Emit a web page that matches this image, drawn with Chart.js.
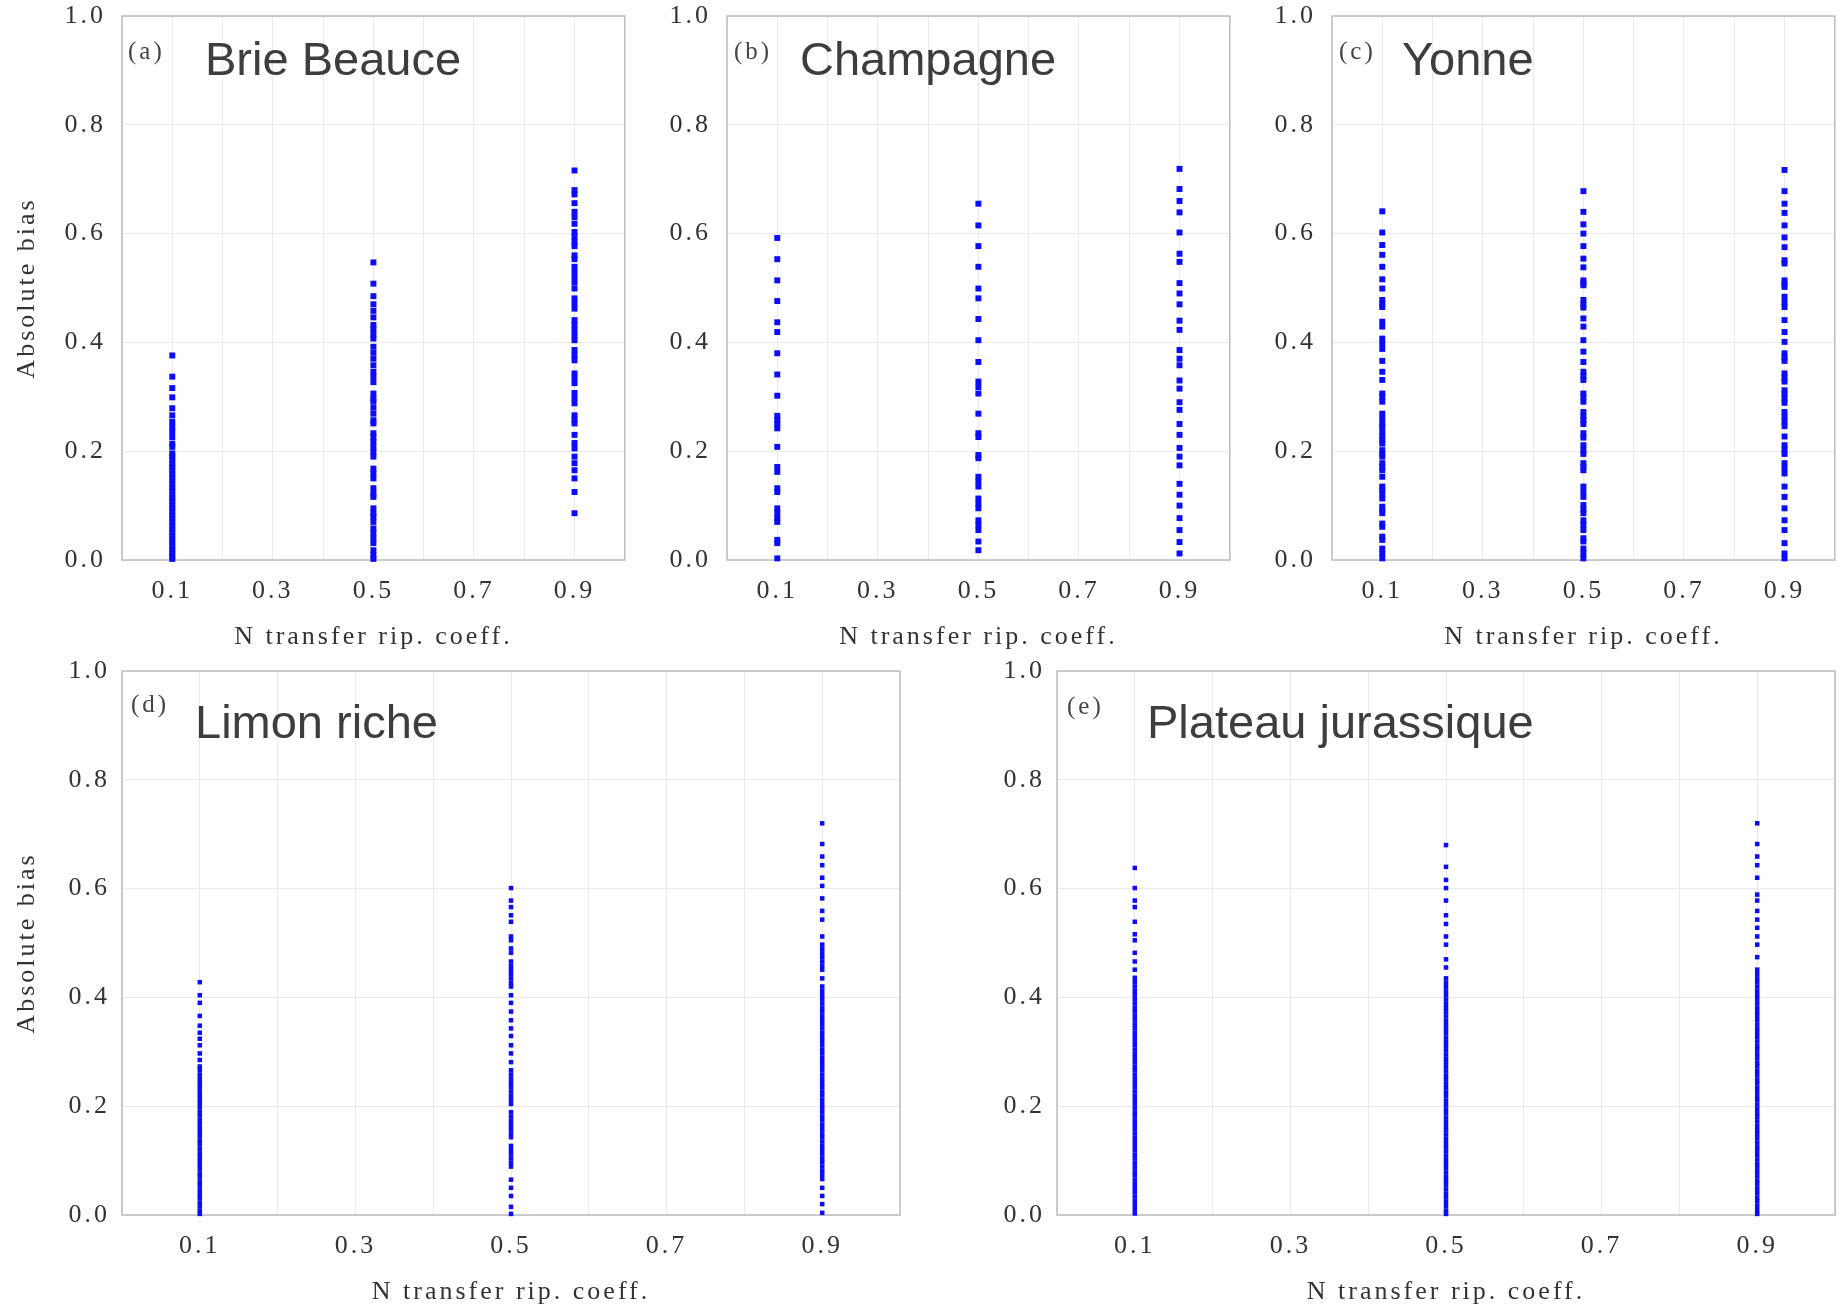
<!DOCTYPE html>
<html>
<head>
<meta charset="utf-8">
<title>Absolute bias - N transfer rip. coeff.</title>
<script src="https://cdn.jsdelivr.net/npm/chart.js@4.4.1/dist/chart.umd.min.js"></script>
<style>
	html, body { margin: 0; padding: 0; background: #fff; overflow: hidden; }
	#page { position: relative; width: 1847px; height: 1308px; }
	#page canvas { position: absolute; }
</style>
</head>
<body>
<div id="page">
	<canvas id="PanelA"></canvas>
	<canvas id="PanelB"></canvas>
	<canvas id="PanelC"></canvas>
	<canvas id="PanelD"></canvas>
	<canvas id="PanelE"></canvas>
</div>
<script>
// tested values of the N transfer riparian coefficient
var coeffLevels = [0.1, 0.5, 0.9];

var xTickLabels = ["0.1", "0.3", "0.5", "0.7", "0.9"];
var yTickLabels = ["0.0", "0.2", "0.4", "0.6", "0.8", "1.0"];

// (a) Brie Beauce
var brieBeauce01 = [0.376, 0.337, 0.316, 0.299, 0.279, 0.266, 0.254, 0.245, 0.236, 0.226, 0.214, 0.208, 0.196,
	0.190, 0.184, 0.177, 0.171, 0.165, 0.158, 0.152, 0.146, 0.139, 0.133, 0.127, 0.120, 0.114, 0.108, 0.101,
	0.095, 0.089, 0.082, 0.076, 0.070, 0.063, 0.057, 0.051, 0.044, 0.038, 0.032, 0.025, 0.019, 0.013, 0.006, 0.002];
var brieBeauce05 = [0.547, 0.508, 0.485, 0.470, 0.458, 0.446, 0.432, 0.424, 0.415, 0.407, 0.392, 0.381, 0.370,
	0.358, 0.346, 0.337, 0.327, 0.306, 0.297, 0.291, 0.280, 0.269, 0.257, 0.251, 0.233, 0.225, 0.217, 0.208,
	0.199, 0.190, 0.168, 0.159, 0.150, 0.132, 0.122, 0.116, 0.095, 0.086, 0.080, 0.070, 0.058, 0.049, 0.040,
	0.031, 0.018, 0.009, 0.002];
var brieBeauce09 = [0.716, 0.680, 0.672, 0.656, 0.640, 0.630, 0.618, 0.603, 0.594, 0.585, 0.577, 0.560, 0.553,
	0.539, 0.530, 0.520, 0.510, 0.499, 0.481, 0.472, 0.462, 0.441, 0.432, 0.422, 0.413, 0.404, 0.386, 0.376,
	0.367, 0.343, 0.334, 0.325, 0.307, 0.298, 0.288, 0.266, 0.258, 0.251, 0.230, 0.215, 0.205, 0.190, 0.178,
	0.165, 0.150, 0.125, 0.086];

// (b) Champagne
var champagne01 = [0.592, 0.553, 0.514, 0.476, 0.437, 0.419, 0.380, 0.341, 0.302, 0.265, 0.257, 0.250, 0.242,
	0.208, 0.171, 0.162, 0.132, 0.125, 0.095, 0.086, 0.077, 0.070, 0.037, 0.031, 0.003];
var champagne05 = [0.655, 0.615, 0.577, 0.539, 0.499, 0.481, 0.443, 0.404, 0.364, 0.328, 0.318, 0.306, 0.269,
	0.233, 0.226, 0.193, 0.187, 0.153, 0.144, 0.135, 0.113, 0.104, 0.095, 0.073, 0.064, 0.055, 0.034, 0.018];
var champagne09 = [0.719, 0.682, 0.660, 0.639, 0.602, 0.563, 0.548, 0.509, 0.490, 0.470, 0.440, 0.423, 0.386,
	0.370, 0.358, 0.330, 0.315, 0.290, 0.276, 0.250, 0.230, 0.206, 0.190, 0.174, 0.140, 0.120, 0.100, 0.077,
	0.055, 0.033, 0.012];

// (c) Yonne
var yonne01 = [0.641, 0.602, 0.579, 0.561, 0.539, 0.516, 0.499, 0.478, 0.471, 0.465, 0.438, 0.429, 0.407, 0.398,
	0.388, 0.366, 0.346, 0.331, 0.306, 0.299, 0.291, 0.269, 0.260, 0.251, 0.245, 0.236, 0.227, 0.220, 0.214,
	0.202, 0.195, 0.190, 0.178, 0.171, 0.165, 0.153, 0.135, 0.129, 0.122, 0.113, 0.098, 0.092, 0.086, 0.067,
	0.061, 0.043, 0.037, 0.021, 0.012, 0.003];
var yonne05 = [0.678, 0.640, 0.617, 0.600, 0.577, 0.554, 0.538, 0.514, 0.509, 0.505, 0.478, 0.470, 0.464, 0.444,
	0.429, 0.404, 0.383, 0.364, 0.346, 0.338, 0.331, 0.306, 0.299, 0.291, 0.272, 0.264, 0.257, 0.250, 0.233,
	0.225, 0.211, 0.202, 0.195, 0.178, 0.171, 0.165, 0.135, 0.125, 0.116, 0.101, 0.093, 0.086, 0.073, 0.064,
	0.055, 0.040, 0.034, 0.021, 0.012, 0.003];
var yonne09 = [0.717, 0.678, 0.655, 0.638, 0.615, 0.593, 0.575, 0.551, 0.545, 0.514, 0.508, 0.502, 0.484, 0.474,
	0.465, 0.441, 0.419, 0.401, 0.380, 0.372, 0.366, 0.343, 0.335, 0.328, 0.312, 0.305, 0.297, 0.289, 0.272,
	0.263, 0.254, 0.246, 0.227, 0.211, 0.202, 0.195, 0.178, 0.168, 0.159, 0.135, 0.116, 0.095, 0.073, 0.055,
	0.031, 0.012, 0.003];

// (d) Limon riche
var limonRiche01 = [0.428, 0.404, 0.390, 0.366, 0.348, 0.335, 0.324, 0.312, 0.297, 0.285, 0.273, 0.266, 0.258,
	0.250, 0.243, 0.236, 0.228, 0.221, 0.213, 0.206, 0.198, 0.190, 0.183, 0.175, 0.168, 0.160, 0.152, 0.145,
	0.137, 0.130, 0.122, 0.114, 0.107, 0.099, 0.092, 0.084, 0.076, 0.069, 0.061, 0.054, 0.046, 0.038, 0.031,
	0.023, 0.016, 0.008, 0.002];
var limonRiche05 = [0.601, 0.578, 0.566, 0.551, 0.539, 0.512, 0.505, 0.490, 0.482, 0.466, 0.458, 0.450, 0.443,
	0.435, 0.427, 0.420, 0.404, 0.390, 0.374, 0.358, 0.343, 0.329, 0.312, 0.297, 0.281, 0.266, 0.258, 0.250,
	0.242, 0.235, 0.227, 0.219, 0.212, 0.204, 0.189, 0.181, 0.173, 0.166, 0.158, 0.150, 0.143, 0.127, 0.119,
	0.112, 0.104, 0.096, 0.089, 0.065, 0.050, 0.035, 0.015, 0.002];
var limonRiche09 = [0.720, 0.682, 0.659, 0.643, 0.620, 0.605, 0.582, 0.559, 0.543, 0.512, 0.497, 0.489, 0.481,
	0.474, 0.466, 0.458, 0.451, 0.435, 0.420, 0.412, 0.404, 0.397, 0.389, 0.381, 0.374, 0.366, 0.358, 0.351,
	0.343, 0.335, 0.327, 0.320, 0.312, 0.304, 0.297, 0.289, 0.281, 0.274, 0.266, 0.258, 0.250, 0.243, 0.235,
	0.227, 0.220, 0.212, 0.204, 0.197, 0.189, 0.181, 0.174, 0.166, 0.158, 0.150, 0.143, 0.135, 0.127, 0.120,
	0.112, 0.104, 0.097, 0.089, 0.081, 0.074, 0.066, 0.050, 0.035, 0.020, 0.004];

// (e) Plateau jurassique
var plateauJura01 = [0.638, 0.601, 0.578, 0.566, 0.539, 0.516, 0.505, 0.482, 0.466, 0.451, 0.436, 0.428, 0.420,
	0.412, 0.405, 0.397, 0.389, 0.381, 0.374, 0.366, 0.358, 0.350, 0.343, 0.335, 0.327, 0.320, 0.312, 0.304,
	0.296, 0.289, 0.281, 0.273, 0.266, 0.258, 0.250, 0.242, 0.235, 0.227, 0.219, 0.212, 0.204, 0.196, 0.188,
	0.181, 0.173, 0.165, 0.158, 0.150, 0.142, 0.134, 0.127, 0.119, 0.111, 0.104, 0.096, 0.088, 0.080, 0.073,
	0.065, 0.057, 0.050, 0.042, 0.034, 0.026, 0.019, 0.011, 0.003];
var plateauJura05 = [0.680, 0.640, 0.616, 0.601, 0.578, 0.551, 0.535, 0.512, 0.497, 0.470, 0.455, 0.435, 0.427,
	0.419, 0.411, 0.404, 0.396, 0.388, 0.380, 0.373, 0.365, 0.357, 0.349, 0.342, 0.334, 0.326, 0.318, 0.311,
	0.303, 0.295, 0.287, 0.280, 0.272, 0.264, 0.256, 0.249, 0.241, 0.233, 0.225, 0.218, 0.210, 0.202, 0.194,
	0.187, 0.179, 0.171, 0.163, 0.156, 0.148, 0.140, 0.132, 0.125, 0.117, 0.109, 0.101, 0.094, 0.086, 0.078,
	0.070, 0.063, 0.055, 0.047, 0.039, 0.032, 0.024, 0.016, 0.008, 0.002];
var plateauJura09 = [0.720, 0.682, 0.659, 0.643, 0.620, 0.589, 0.578, 0.559, 0.543, 0.528, 0.512, 0.497, 0.474,
	0.451, 0.443, 0.435, 0.428, 0.420, 0.412, 0.404, 0.397, 0.389, 0.381, 0.373, 0.366, 0.358, 0.350, 0.342,
	0.335, 0.327, 0.319, 0.311, 0.304, 0.296, 0.288, 0.280, 0.273, 0.265, 0.257, 0.249, 0.242, 0.234, 0.226,
	0.218, 0.211, 0.203, 0.195, 0.187, 0.180, 0.172, 0.164, 0.156, 0.149, 0.141, 0.133, 0.125, 0.118, 0.110,
	0.102, 0.094, 0.087, 0.079, 0.071, 0.063, 0.056, 0.048, 0.040, 0.032, 0.025, 0.017, 0.009, 0.002];

// box around the plot area, panel letter and soil name
var panelDecor = {
	id: 'panelDecor',
	beforeDraw: function(chart) {
		chart.ctx.letterSpacing = '3px';
	},
	beforeDatasetsDraw: function(chart) {
		var ctx = chart.ctx;
		var area = chart.chartArea;
		ctx.save();
		ctx.strokeStyle = '#bdbdbd';
		ctx.lineWidth = 1.5;
		ctx.strokeRect(area.left, area.top, area.right - area.left, area.bottom - area.top);
		ctx.restore();
	},
	afterDraw: function(chart, args, opts) {
		var ctx = chart.ctx;
		var area = chart.chartArea;
		ctx.save();
		ctx.textAlign = 'left';
		ctx.fillStyle = '#444';
		ctx.font = '25px "Liberation Serif"';
		ctx.letterSpacing = '3px';
		ctx.textBaseline = 'middle';
		ctx.fillText(opts.tag, area.left + opts.tagX, area.top + opts.tagY);
		ctx.letterSpacing = '0px';
		ctx.fillStyle = '#3d3d3d';
		ctx.font = '47px "Liberation Sans"';
		ctx.textBaseline = 'alphabetic';
		ctx.fillText(opts.name, area.left + opts.nameX, area.top + opts.nameY);
		ctx.restore();
	}
};

var Panels = {
	padTop: 16,
	plotHeight: 544,
	xAxisHeight: 96,

	list: [
		{ canvas: "PanelA", tag: "(a)", name: "Brie Beauce", series: [brieBeauce01, brieBeauce05, brieBeauce09],
			left: 0, top: 0, yWidth: 122, plotWidth: 504, yTitle: true, tickPad: 16, radius: 4.2,
			tagX: 6, tagY: 36, nameX: 83, nameY: 59 },
		{ canvas: "PanelB", tag: "(b)", name: "Champagne", series: [champagne01, champagne05, champagne09],
			left: 627, top: 0, yWidth: 100, plotWidth: 504, yTitle: false, tickPad: 16, radius: 4.2,
			tagX: 7, tagY: 36, nameX: 73, nameY: 59 },
		{ canvas: "PanelC", tag: "(c)", name: "Yonne", series: [yonne01, yonne05, yonne09],
			left: 1232, top: 0, yWidth: 100, plotWidth: 504, yTitle: false, tickPad: 16, radius: 4.2,
			tagX: 7, tagY: 36, nameX: 70, nameY: 59 },
		{ canvas: "PanelD", tag: "(d)", name: "Limon riche", series: [limonRiche01, limonRiche05, limonRiche09],
			left: 0, top: 655, yWidth: 122, plotWidth: 779, yTitle: true, tickPad: 12, radius: 3.2,
			tagX: 9, tagY: 34, nameX: 73, nameY: 67 },
		{ canvas: "PanelE", tag: "(e)", name: "Plateau jurassique", series: [plateauJura01, plateauJura05, plateauJura09],
			left: 957, top: 655, yWidth: 100, plotWidth: 779, yTitle: false, tickPad: 12, radius: 3.2,
			tagX: 10, tagY: 36, nameX: 90, nameY: 67 }
	],

	init: function() {
		for(var i = 0; i < this.list.length; i++) {
			this.drawChart(this.list[i]);
		}
	},
	tickFont: function() {
		return { family: 'Liberation Serif', size: 26 };
	},
	drawChart: function(panel) {
		var canvas = document.getElementById(panel.canvas);
		canvas.width = panel.yWidth + panel.plotWidth + 3;
		canvas.height = Panels.padTop + Panels.plotHeight + Panels.xAxisHeight;
		canvas.style.left = panel.left + 'px';
		canvas.style.top = panel.top + 'px';

		var datasets = [];
		for(var k = 0; k < coeffLevels.length; k++) {
			datasets.push({
				data: panel.series[k].map(function(v) { return { x: coeffLevels[k], y: v }; }),
				pointStyle: 'rect',
				pointRadius: panel.radius,
				pointBackgroundColor: '#0b0bff',
				pointBorderWidth: 0,
				clip: false
			});
		}

		new Chart(canvas.getContext('2d'), {
			type: 'scatter',
			data: { datasets: datasets },
			plugins: [panelDecor],
			options: {
				responsive: false,
				animation: false,
				events: [],
				layout: { padding: { top: Panels.padTop, right: 3, left: 0, bottom: 0 } },
				plugins: {
					legend: { display: false },
					tooltip: { enabled: false },
					panelDecor: { tag: panel.tag, name: panel.name, tagX: panel.tagX, tagY: panel.tagY, nameX: panel.nameX, nameY: panel.nameY }
				},
				scales: {
					x: {
						type: 'linear', min: 0, max: 1,
						border: { display: false },
						grid: { color: '#eaeaea', lineWidth: 1, drawTicks: false },
						ticks: {
							stepSize: 0.1, autoSkip: false, maxRotation: 0, padding: 16,
							color: '#333', font: Panels.tickFont(),
							callback: function(value) {
								var s = value.toFixed(1);
								return xTickLabels.indexOf(s) >= 0 ? s : '';
							}
						},
						title: { display: true, text: 'N transfer rip. coeff.', color: '#333', font: Panels.tickFont(), padding: { top: 0, bottom: 3 } },
						afterFit: function(scale) {
							// keep the plot edges where the layout padding puts them
							scale.height = Panels.xAxisHeight;
							scale.paddingLeft = 0;
							scale.paddingRight = 0;
						}
					},
					y: {
						type: 'linear', min: 0, max: 1,
						border: { display: false },
						grid: { color: '#eaeaea', lineWidth: 1, drawTicks: false },
						ticks: {
							stepSize: 0.2, autoSkip: false, padding: panel.tickPad,
							color: '#333', font: Panels.tickFont(),
							callback: function(value) {
								var s = value.toFixed(1);
								return yTickLabels.indexOf(s) >= 0 ? s : '';
							}
						},
						title: { display: panel.yTitle, text: 'Absolute bias', color: '#333', font: Panels.tickFont(), padding: { top: 12, bottom: 0 } },
						afterFit: function(scale) {
							scale.width = panel.yWidth;
							scale.paddingTop = 0;
							scale.paddingBottom = 0;
						}
					}
				}
			}
		});
	}
};

Panels.init();
</script>
</body>
</html>
